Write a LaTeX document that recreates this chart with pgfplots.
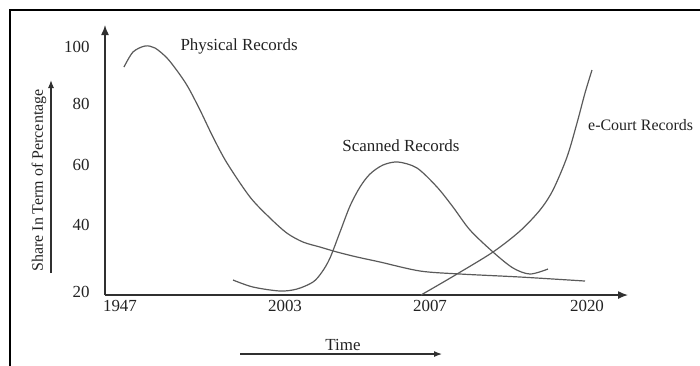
\documentclass[border=0pt]{standalone}
\usepackage{pgfplots}
\pgfplotsset{compat=1.18}
\usepackage{fontspec}
\setmainfont{Liberation Serif}
\usetikzlibrary{arrows.meta}
\definecolor{txt}{HTML}{222222}
\definecolor{crv}{HTML}{5A5A5A}
\definecolor{axc}{HTML}{303030}
\begin{document}
\begin{tikzpicture}
\begin{axis}[
  x=1bp, y=3.0625bp,
  xmin=0, xmax=523, ymin=20, ymax=108.16,
  enlargelimits=false,
  axis x line=bottom, axis y line=left,
  x axis line style={line width=1.4bp, draw=axc, -{Latex[length=10bp,width=8bp]}},
  y axis line style={line width=1.4bp, draw=axc, -{Latex[length=10bp,width=8bp]}},
  major tick length=0pt,
  xtick={15,180,325,482}, xticklabels={1947,2003,2007,2020},
  ytick={20.98,42.86,62.45,82.37,100.98}, yticklabels={20,40,60,80,100},
  ticklabel style={font=\fontsize{17}{20}\selectfont, text=txt},
  /pgf/number format/assume math mode=true,
  yticklabel style={xshift=-12bp},
  xticklabel style={yshift=-2bp},
  clip=false,
]
% Physical Records
\addplot[smooth, line width=1.2bp, draw=crv] coordinates {
(19,94.45) (28,99.35) (40,101.31) (50,100.65) (62,97.39) (73,92.82) (83,87.92)
(95,80.41) (108,71.59) (122,63.10) (145,52.0) (165,45.14) (182,40.2) (198,37.3)
(215,35.67) (232,34.04) (252,32.41) (275,30.78) (315,27.84) (355,26.86) (415,25.88) (480,24.57)
};
% Scanned Records
\addplot[smooth, line width=1.2bp, draw=crv] coordinates {
(128,24.90) (148,22.61) (175,21.31) (192,21.96) (208,24.24) (217,27.51) (225,32.08)
(235,40.57) (245,49.06) (255,55.27) (265,59.51) (278,62.45) (293,63.43) (312,61.47)
(332,55.27) (348,48.73) (365,41.22) (388,34.04) (408,28.82) (425,26.86) (443,28.49)
};
% e-Court Records
\addplot[smooth, line width=1.2bp, draw=crv] coordinates {
(316,20) (335,23.59) (352,26.86) (388,34.04) (415,40.90) (435,47.76) (448,54.29)
(462,65.06) (472,76.16) (480,85.96) (487,93.47)
};
\node[anchor=west, font=\fontsize{17}{20}\selectfont, text=txt] at (axis cs:72,101) {Physical Records};
\node[font=\fontsize{17}{20}\selectfont, text=txt] at (axis cs:296,68.65) {Scanned Records};
\node[anchor=west, inner sep=0pt, font=\fontsize{16}{19}\selectfont, text=txt] at (axis cs:483,75.5) {e-Court Records};
\node[rotate=90, font=\fontsize{16}{19}\selectfont, text=txt] at (axis cs:-66,57.39) {Share In Term of Percentage};
\draw[line width=1.2bp, draw=axc, -{Latex[length=8bp,width=6bp]}] (axis cs:-54,27.18) -- (axis cs:-54,90.2);
\node[font=\fontsize{17}{20}\selectfont, text=txt] at (axis cs:238,3.67) {Time};
\draw[line width=1.2bp, draw=axc, -{Latex[length=8bp,width=6bp]}] (axis cs:135,0.73) -- (axis cs:337,0.73);
\draw[line width=2bp, black] (axis cs:-95,-10) -- (axis cs:-95,113.06) -- (axis cs:700,113.06);
\coordinate (bl) at (axis cs:-105,-2.857);
\coordinate (tr) at (axis cs:595,116.33);
\end{axis}
\pgfresetboundingbox
\useasboundingbox (bl) rectangle (tr);
\end{tikzpicture}
\end{document}
